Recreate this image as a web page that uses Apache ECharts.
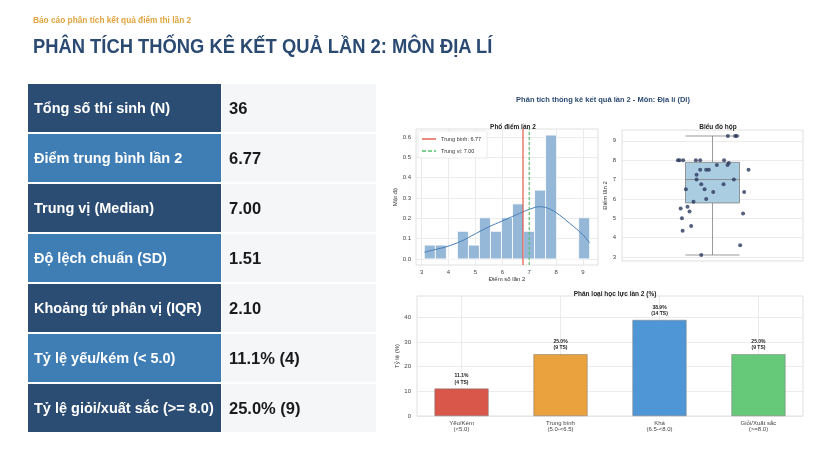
<!DOCTYPE html>
<html><head><meta charset="utf-8">
<script src="https://cdn.jsdelivr.net/npm/echarts@6/dist/echarts.min.js"></script>
<style>
html,body{margin:0;padding:0;background:#fff;width:840px;height:454px;overflow:hidden;font-family:"Liberation Sans",Arial,sans-serif;}
#chart{position:absolute;left:0;top:0;width:840px;height:454px;z-index:0;}
#sub{position:absolute;left:33px;top:15px;font-size:8.3px;font-weight:bold;color:#e0a43e;z-index:2;}
#title{position:absolute;left:33px;top:35px;font-size:20px;font-weight:bold;color:#2b4a72;z-index:2;white-space:nowrap;transform:scaleX(0.918);transform-origin:0 50%;}
#tbl{position:absolute;left:28px;top:84px;width:348px;border-collapse:collapse;z-index:2;}
#tbl td{height:48px;padding:0;border-bottom:2px solid #fff;}
#tbl td.k{width:187px;padding-left:6px;color:#fff;font-size:14.5px;font-weight:bold;border-right:1px solid #fff;}
#tbl td.v{padding-left:7px;background:#f4f6f8;color:#1a1a1a;font-size:16.5px;font-weight:bold;}
#tbl tr.d td.k{background:#2c4d73;}
#tbl tr.l td.k{background:#3f7db5;}
</style></head>
<body>
<div id="chart"></div>
<div id="sub">Báo cáo phân tích kết quả điểm thi lần 2</div>
<div id="title">PHÂN TÍCH THỐNG KÊ KẾT QUẢ LẦN 2: MÔN ĐỊA LÍ</div>
<table id="tbl"></table>
<script>
// ---- Summary table ----
const statLabels = ["Tổng số thí sinh (N)","Điểm trung bình lần 2","Trung vị (Median)","Độ lệch chuẩn (SD)","Khoảng tứ phân vị (IQR)","Tỷ lệ yếu/kém (< 5.0)","Tỷ lệ giỏi/xuất sắc (>= 8.0)"];
const statValues = ["36","6.77","7.00","1.51","2.10","11.1% (4)","25.0% (9)"];

// ---- Histogram ----
const binEdges = [3.10,3.51,3.92,4.33,4.74,5.15,5.56,5.97,6.38,6.79,7.20,7.61,8.02,8.43,8.84,9.25];
const binDensity = [0.068,0.068,0,0.136,0.068,0.203,0.136,0.203,0.271,0.136,0.339,0.610,0,0,0.203];
const kdeX = [3.1,3.5,3.9,4.5,5.0,5.5,6.0,6.5,7.0,7.4,7.6,8.0,8.5,9.0,9.25];
const kdeY = [0.033,0.046,0.059,0.089,0.124,0.158,0.187,0.216,0.244,0.257,0.254,0.228,0.176,0.119,0.078];
const meanScore = 6.77;
const medianScore = 7.00;
const histXTicks = [3,4,5,6,7,8,9];
const histYTicks = [0,0.1,0.2,0.3,0.4,0.5,0.6];

// ---- Box plot ----
const boxStats = [3.1,5.79,7.0,7.89,9.25];
const scores = [9.25,9.25,9.25,8,8,8,8,8,8,7.85,7.75,7.75,7.5,7.5,7.5,7.5,7.25,7,7,6.75,6.75,6.5,6.5,6.35,6.35,6,5.85,5.6,5.5,5.35,5.25,5,4.6,4.35,3.6,3.1];
const jitter = [0.085,0.125,0.134,-0.191,-0.182,-0.162,-0.092,-0.068,0.064,0.090,0.083,0.024,0.199,-0.068,-0.035,-0.020,-0.088,-0.088,0.118,-0.062,0.061,-0.147,-0.044,0.004,0.175,-0.035,-0.105,-0.138,-0.176,-0.127,0.169,-0.169,-0.118,-0.165,0.153,-0.062];
const boxYTicks = [3,4,5,6,7,8,9];

// ---- Bar chart ----
const levelNames = ["Yếu/Kém\n(<5.0)","Trung bình\n(5.0-<6.5)","Khá\n(6.5-<8.0)","Giỏi/Xuất sắc\n(>=8.0)"];
const levelPct = [11.1,25.0,38.9,25.0];
const levelCount = [4,9,14,9];
const levelColors = ["#d9574a","#e9a23d","#4f96d6","#66c97a"];
const barYTicks = [0,10,20,30,40];

// build table
const tbl = document.getElementById('tbl');
statLabels.forEach((l,i)=>{
  const tr = document.createElement('tr');
  tr.className = i%2===0 ? 'd':'l';
  tr.innerHTML = '<td class="k">'+l+'</td><td class="v">'+statValues[i]+'</td>';
  tbl.appendChild(tr);
});

const chart = echarts.init(document.getElementById('chart'), null, {renderer:'canvas'});
const gridLine = {show:true, lineStyle:{color:'#e6e6e6', width:0.8}};
const tickLab = {color:'#444', fontSize:6, fontFamily:'Liberation Sans'};
const nameStyle = {color:'#333', fontSize:6, fontFamily:'Liberation Sans'};
const titleStyle = {color:'#222', fontSize:6.5, fontWeight:'bold', fontFamily:'Liberation Sans'};

const histData = binDensity.map((d,i)=>[binEdges[i],binEdges[i+1],d]);

const option = {
  animation:false,
  title:[
    {text:'Phân tích thống kê kết quả lần 2 - Môn: Địa lí (Dl)', left:598, top:91, textAlign:'center', textStyle:{color:'#2b4a72',fontSize:7.5,fontWeight:'bold',fontFamily:'Liberation Sans'}},
    {text:'Phổ điểm lần 2', left:508, top:119, textAlign:'center', textStyle:titleStyle},
    {text:'Biểu đồ hộp', left:713, top:119, textAlign:'center', textStyle:titleStyle},
    {text:'Phân loại học lực lần 2 (%)', left:610, top:286, textAlign:'center', textStyle:titleStyle}
  ],
  legend:{
    data:[
      {name:'Trung bình: 6.77', icon:'path://M0,0H14V1.4H0Z'},
      {name:'Trung vị: 7.00', icon:'path://M0,0H4V1.4H0Z M6,0H10V1.4H6Z M12,0H14V1.4H12Z'}
    ],
    left:418, top:131, orient:'vertical', itemGap:6, itemWidth:14, itemHeight:1.4,
    padding:[5,6,4,4], backgroundColor:'#fff', borderColor:'#dddddd', borderWidth:0.6, borderRadius:2,
    textStyle:{fontSize:5.5,color:'#333',fontFamily:'Liberation Sans'}
  },
  grid:[
    {left:416, top:129, width:182, height:136, show:true, borderColor:'#d8d8d8', borderWidth:0.8, backgroundColor:'#fff'},
    {left:622, top:130, width:181, height:131, show:true, borderColor:'#d8d8d8', borderWidth:0.8, backgroundColor:'#fff'},
    {left:417, top:296, width:386, height:120, show:true, borderColor:'#d8d8d8', borderWidth:0.8, backgroundColor:'#fff'}
  ],
  xAxis:[
    {gridIndex:0, type:'value', min:2.79, max:9.56, axisLine:{show:false}, axisTick:{show:false, customValues:histXTicks},
     axisLabel:Object.assign({customValues:histXTicks, margin:4}, tickLab), splitLine:gridLine,
     name:'Điểm số lần 2', nameLocation:'middle', nameGap:11, nameTextStyle:nameStyle},
    {gridIndex:1, type:'category', data:['Điểm'], show:false},
    {gridIndex:1, type:'value', min:-0.5, max:0.5, show:false},
    {gridIndex:2, type:'value', min:-0.45, max:3.45, axisLine:{show:false}, axisTick:{show:false, customValues:[0,1,2,3]},
     axisLabel:Object.assign({customValues:[0,1,2,3], margin:4, lineHeight:6.5, formatter:v=>levelNames[Math.round(v)]}, tickLab),
     splitLine:gridLine}
  ],
  yAxis:[
    {gridIndex:0, type:'value', min:-0.03, max:0.64, axisLine:{show:false}, axisTick:{show:false, customValues:histYTicks},
     axisLabel:Object.assign({customValues:histYTicks, margin:5, formatter:v=>v.toFixed(1)}, tickLab), splitLine:gridLine,
     name:'Mật độ', nameLocation:'middle', nameGap:16, nameTextStyle:nameStyle},
    {gridIndex:1, type:'value', min:2.79, max:9.56, axisLine:{show:false}, axisTick:{show:false, customValues:boxYTicks},
     axisLabel:Object.assign({customValues:boxYTicks, margin:6}, tickLab), splitLine:gridLine,
     name:'Điểm lần 2', nameLocation:'middle', nameGap:11, nameTextStyle:nameStyle},
    {gridIndex:2, type:'value', min:0, max:48.6, axisLine:{show:false}, axisTick:{show:false, customValues:barYTicks},
     axisLabel:Object.assign({customValues:barYTicks, margin:6}, tickLab), splitLine:gridLine,
     name:'Tỷ lệ (%)', nameLocation:'middle', nameGap:17, nameTextStyle:nameStyle}
  ],
  series:[
    {type:'custom', xAxisIndex:0, yAxisIndex:0, data:histData, z:2,
     renderItem:(params,api)=>{
       const p0 = api.coord([api.value(0), 0]);
       const p1 = api.coord([api.value(1), api.value(2)]);
       return {type:'rect', shape:{x:p0[0], y:p1[1], width:p1[0]-p0[0], height:p0[1]-p1[1]},
               style:{fill:'#96b8d8', stroke:'#ffffff', lineWidth:0.8}};
     }},
    {type:'line', xAxisIndex:0, yAxisIndex:0, data:kdeX.map((x,i)=>[x,kdeY[i]]), smooth:0.4, symbol:'none',
     lineStyle:{color:'#4a7fb6', width:1}, z:3},
    {name:'Trung bình: 6.77', type:'line', xAxisIndex:0, yAxisIndex:0, data:[[meanScore,-0.03],[meanScore,0.64]], symbol:'none',
     lineStyle:{color:'#e05a48', width:1.2}, itemStyle:{color:'#e05a48'}, z:4},
    {name:'Trung vị: 7.00', type:'line', xAxisIndex:0, yAxisIndex:0, data:[[medianScore,-0.03],[medianScore,0.64]], symbol:'none',
     lineStyle:{color:'#55c26b', width:1.1, type:[3,2]}, itemStyle:{color:'#55c26b'}, z:4},
    {type:'boxplot', xAxisIndex:1, yAxisIndex:1, data:[boxStats], boxWidth:[54,54],
     itemStyle:{color:'#aacde2', borderColor:'#808080', borderWidth:0.8}, z:2},
    {type:'scatter', xAxisIndex:2, yAxisIndex:1, data:scores.map((s,i)=>[jitter[i],s]), symbolSize:4,
     itemStyle:{color:'#2c3a5e'}, z:5},
    {type:'bar', xAxisIndex:3, yAxisIndex:2, barWidth:54,
     data:levelPct.map((v,i)=>({value:[i,v], itemStyle:{color:levelColors[i]}})),
     itemStyle:{borderColor:'#777', borderWidth:0.5},
     label:{show:true, position:'top', distance:3, fontSize:5, fontWeight:'bold', color:'#222', lineHeight:6.5,
            formatter:p=>levelPct[p.dataIndex].toFixed(1)+'%\n('+levelCount[p.dataIndex]+' TS)'}}
  ]
};
chart.setOption(option);
</script>
</body></html>
